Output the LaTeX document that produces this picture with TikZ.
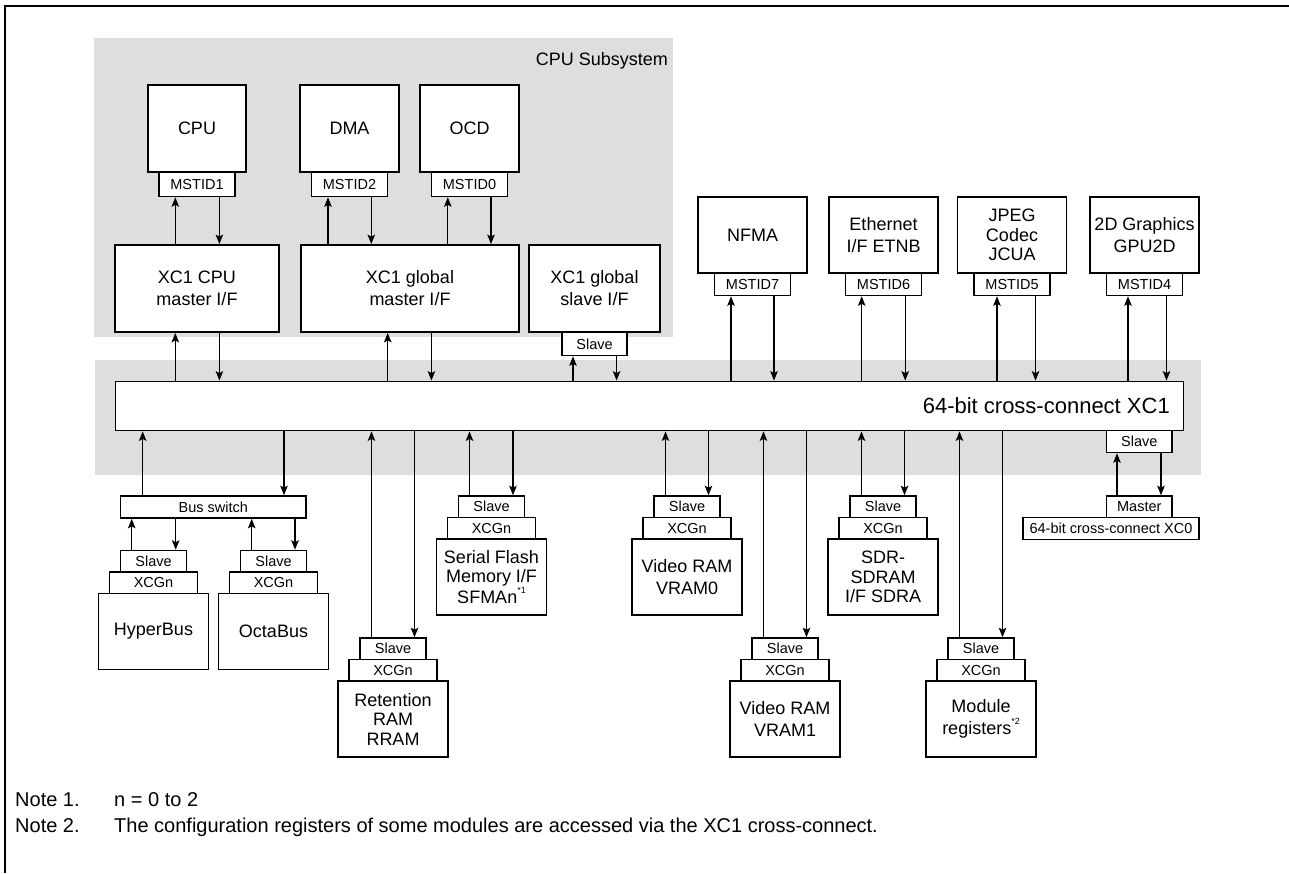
\documentclass[tikz,border=0pt]{standalone}
\usepackage{fontspec}
\setmainfont{Liberation Sans}
\usetikzlibrary{arrows.meta}
\definecolor{band}{RGB}{221,222,224}
\newcommand{\fmain}{\fontsize{18}{22}\selectfont}
\newcommand{\fmaint}{\fontsize{18}{19.5}\selectfont}
\newcommand{\fsmall}{\fontsize{14.5}{16}\selectfont}
\newcommand{\fbig}{\fontsize{22}{26}\selectfont}
\newcommand{\fnote}{\fontsize{20}{24}\selectfont}
\newcommand{\supnote}[1]{\raisebox{0.55em}{\fontsize{9}{9}\selectfont *#1}}
\begin{document}
\begin{tikzpicture}[x=1pt,y=-1pt,
  blk/.style={draw, fill=white, line width=1.8pt, inner sep=0pt, align=center, font=\fmain},
  blkt/.style={blk, font=\fmaint},
  tag/.style={draw, fill=white, line width=1.6pt, inner sep=0pt, align=center, font=\fsmall},
  slv/.style={tag, minimum width=66pt, minimum height=21.5pt},
  xcg/.style={tag, minimum width=88pt, minimum height=21.5pt},
  mod/.style={blk, minimum width=110pt, minimum height=76pt},
  mst/.style={tag, minimum width=76pt, minimum height=22.5pt},
  top/.style={blk, minimum width=109pt, minimum height=76pt},
  arr/.style={line width=1.2pt, -{Stealth[length=9.5pt,width=7.5pt,inset=2pt]}},
  note/.style={anchor=base west, inner sep=0pt, font=\fnote},
]
\useasboundingbox (0,0) rectangle (1289,873);
% frame
\draw[line width=2.4pt] (5,873) -- (5,6) -- (1289,6);
% grey bands
\fill[band] (94,38) rectangle (673,337);
\fill[band] (95,360) rectangle (1201,475);
\node[anchor=base east, inner sep=0pt, font=\fmain] (cpusub) at (668,65) {CPU Subsystem};

% CPU subsystem
\node[blk, minimum width=98pt, minimum height=87pt] (cpu) at (197,128.5) {CPU};
\node[tag, minimum width=76pt, minimum height=24pt] (m1) at (197,184.5) {MSTID1};
\node[blk, minimum width=99pt, minimum height=87pt] (dma) at (349.5,128.5) {DMA};
\node[tag, minimum width=76pt, minimum height=24pt] (m2) at (349.5,184.5) {MSTID2};
\node[blk, minimum width=99pt, minimum height=87pt] (ocd) at (469.5,128.5) {OCD};
\node[tag, minimum width=76pt, minimum height=24pt] (m0) at (469.5,184.5) {MSTID0};
\node[blk, minimum width=164pt, minimum height=87pt] (cpumif) at (197,288.5) {XC1 CPU\\master I/F};
\node[blk, minimum width=218pt, minimum height=87pt] (glmif) at (410,288.5) {XC1 global\\master I/F};
\node[blk, minimum width=131pt, minimum height=87pt] (glsif) at (594.5,288.5) {XC1 global\\slave I/F};
\node[tag, minimum width=65pt, minimum height=23pt] (gsl) at (594.5,344) {Slave};

% right top masters
\node[top] (nfma) at (752.5,235) {NFMA};
\node[mst] (m7) at (752.5,284.25) {MSTID7};
\node[top] (eth) at (883.5,235) {Ethernet\\I/F ETNB};
\node[mst] (m6) at (883.5,284.25) {MSTID6};
\node[top, font=\fmaint] (jpeg) at (1012,235) {JPEG\\Codec\\JCUA};
\node[mst] (m5) at (1012,284.25) {MSTID5};
\node[top] (gpu) at (1144.5,235) {2D Graphics\\GPU2D};
\node[mst] (m4) at (1144.5,284.25) {MSTID4};

% cross-connect XC1
\node[draw, fill=white, line width=1.8pt, minimum width=1068pt, minimum height=49pt, inner sep=0pt] (xc1) at (649.5,406) {};
\node[anchor=base east, inner sep=0pt, font=\fbig] (xc1t) at (1170,413.5) {64-bit cross-connect XC1};
\node[tag, minimum width=65.5pt, minimum height=22pt] (xsl) at (1139.25,441.5) {Slave};
\node[tag, minimum width=65.5pt, minimum height=21.5pt] (mas) at (1139.25,506.75) {Master};
\node[tag, minimum width=176pt, minimum height=22pt] (xc0) at (1111,528.5) {64-bit cross-connect XC0};

% bus switch and bus memories
\node[tag, minimum width=185.5pt, minimum height=22pt] (bsw) at (213.25,507) {Bus switch};
\node[slv] (hsl) at (153.5,561.25) {Slave};
\node[xcg] (hxc) at (153.5,582.75) {XCGn};
\node[mod] (hyp) at (153.5,631.5) {HyperBus};
\node[slv] (osl) at (273.5,561.25) {Slave};
\node[xcg] (oxc) at (273.5,582.75) {XCGn};
\node[mod] (oct) at (273.5,631.5) {OctaBus};

% upper tier slaves
\node[slv] (ssl) at (491.5,506.75) {Slave};
\node[xcg] (sxc) at (491.5,528.25) {XCGn};
\node[mod, font=\fmaint] (sfma) at (491.5,577) {Serial Flash\\Memory I/F\\SFMAn\supnote{1}};
\node[slv] (v0sl) at (687,506.75) {Slave};
\node[xcg] (v0xc) at (687,528.25) {XCGn};
\node[mod] (vram0) at (687,577) {Video RAM\\VRAM0};
\node[slv] (dsl) at (883,506.75) {Slave};
\node[xcg] (dxc) at (883,528.25) {XCGn};
\node[mod, font=\fmaint] (sdra) at (883,577) {SDR-\\SDRAM\\I/F SDRA};

% lower tier slaves
\node[slv] (rsl) at (393,648.75) {Slave};
\node[xcg] (rxc) at (393,670.25) {XCGn};
\node[mod, font=\fmaint] (rram) at (393,719) {Retention\\RAM\\RRAM};
\node[slv] (v1sl) at (785,648.75) {Slave};
\node[xcg] (v1xc) at (785,670.25) {XCGn};
\node[mod] (vram1) at (785,719) {Video RAM\\VRAM1};
\node[slv] (msl) at (981,648.75) {Slave};
\node[xcg] (mxc) at (981,670.25) {XCGn};
\node[mod] (modr) at (981,719) {Module\\registers\supnote{2}};

% arrows: CPU subsystem
\draw[arr] (cpumif.north -| 175.3,0) -- (m1.south -| 175.3,0);
\draw[arr] (m1.south -| 219.4,0) -- (cpumif.north -| 219.4,0);
\draw[arr] (glmif.north -| 328,0) -- (m2.south -| 328,0);
\draw[arr] (m2.south -| 371.3,0) -- (glmif.north -| 371.3,0);
\draw[arr] (glmif.north -| 447.8,0) -- (m0.south -| 447.8,0);
\draw[arr] (m0.south -| 491,0) -- (glmif.north -| 491,0);
\draw[arr] (xc1.north -| 175.3,0) -- (cpumif.south -| 175.3,0);
\draw[arr] (cpumif.south -| 219.4,0) -- (xc1.north -| 219.4,0);
\draw[arr] (xc1.north -| 387.7,0) -- (glmif.south -| 387.7,0);
\draw[arr] (glmif.south -| 431.4,0) -- (xc1.north -| 431.4,0);
\draw[arr] (xc1.north -| 573,0) -- (gsl.south -| 573,0);
\draw[arr] (gsl.south -| 616.6,0) -- (xc1.north -| 616.6,0);

% arrows: right masters
\draw[arr] (xc1.north -| 731,0) -- (m7.south -| 731,0);
\draw[arr] (m7.south -| 774,0) -- (xc1.north -| 774,0);
\draw[arr] (xc1.north -| 861.7,0) -- (m6.south -| 861.7,0);
\draw[arr] (m6.south -| 905.2,0) -- (xc1.north -| 905.2,0);
\draw[arr] (xc1.north -| 997,0) -- (m5.south -| 997,0);
\draw[arr] (m5.south -| 1035.5,0) -- (xc1.north -| 1035.5,0);
\draw[arr] (xc1.north -| 1128,0) -- (m4.south -| 1128,0);
\draw[arr] (m4.south -| 1166.5,0) -- (xc1.north -| 1166.5,0);

% arrows: below XC1
\draw[arr] (bsw.north -| 142.7,0) -- (xc1.south -| 142.7,0);
\draw[arr] (xc1.south -| 284,0) -- (bsw.north -| 284,0);
\draw[arr] (hsl.north -| 131.7,0) -- (bsw.south -| 131.7,0);
\draw[arr] (bsw.south -| 175.7,0) -- (hsl.north -| 175.7,0);
\draw[arr] (osl.north -| 251.7,0) -- (bsw.south -| 251.7,0);
\draw[arr] (bsw.south -| 295,0) -- (osl.north -| 295,0);
\draw[arr] (rsl.north -| 371.5,0) -- (xc1.south -| 371.5,0);
\draw[arr] (xc1.south -| 414.5,0) -- (rsl.north -| 414.5,0);
\draw[arr] (ssl.north -| 469.5,0) -- (xc1.south -| 469.5,0);
\draw[arr] (xc1.south -| 513,0) -- (ssl.north -| 513,0);
\draw[arr] (v0sl.north -| 665.5,0) -- (xc1.south -| 665.5,0);
\draw[arr] (xc1.south -| 708.5,0) -- (v0sl.north -| 708.5,0);
\draw[arr] (v1sl.north -| 763.5,0) -- (xc1.south -| 763.5,0);
\draw[arr] (xc1.south -| 806.5,0) -- (v1sl.north -| 806.5,0);
\draw[arr] (dsl.north -| 861.5,0) -- (xc1.south -| 861.5,0);
\draw[arr] (xc1.south -| 904.5,0) -- (dsl.north -| 904.5,0);
\draw[arr] (msl.north -| 959.5,0) -- (xc1.south -| 959.5,0);
\draw[arr] (xc1.south -| 1002.5,0) -- (msl.north -| 1002.5,0);
\draw[arr] (mas.north -| 1117,0) -- (xsl.south -| 1117,0);
\draw[arr] (xsl.south -| 1161,0) -- (mas.north -| 1161,0);

% notes
\node[note] (n1a) at (15,806) {Note 1.};
\node[note] (n1b) at (114,806) {n = 0 to 2};
\node[note] (n2a) at (15,832) {Note 2.};
\node[note] (n2b) at (114,832) {The configuration registers of some modules are accessed via the XC1 cross-connect.};
\end{tikzpicture}
\end{document}
